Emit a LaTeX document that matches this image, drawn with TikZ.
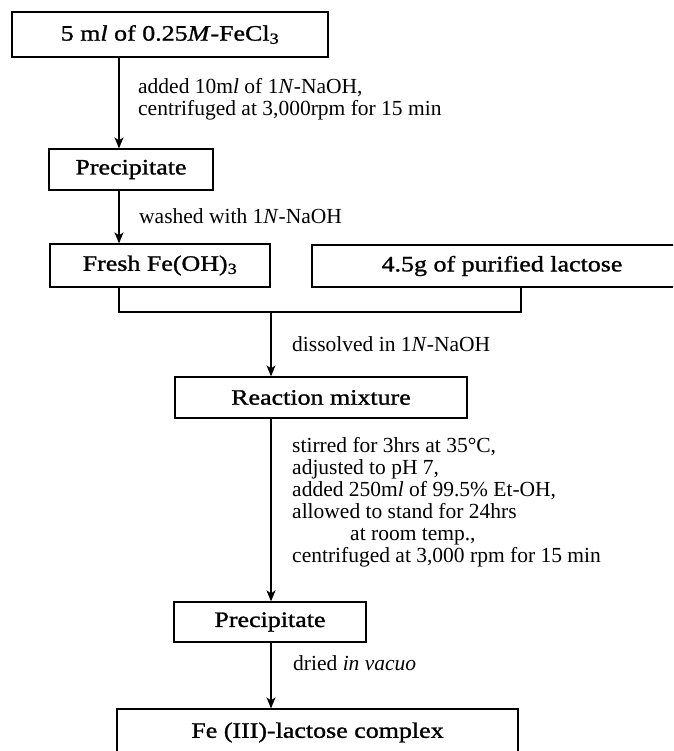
\documentclass[tikz,border=0pt]{standalone}
\usepackage{fontspec}
\setmainfont{Liberation Serif}
\newfontfamily\boxfont{Liberation Serif}[FakeStretch=1.18,FakeBold=1.2]
\usetikzlibrary{arrows.meta, positioning, calc}

\tikzset{
  stepbox/.style={draw, line width=1.3pt, inner sep=0pt,
    font=\boxfont\fontsize{22}{24}\selectfont},
  note/.style={anchor=west, align=left, inner sep=0pt,
    font=\fontsize{21.5}{22}\selectfont},
  flow/.style={line width=1.3pt, -{Stealth[length=11pt, width=9pt, inset=3pt]}},
  joinline/.style={line width=1.3pt}
}

\begin{document}
\begin{tikzpicture}[x=1pt, y=-1pt]
  \clip (0,0) rectangle (673,751);
  \coordinate (colA) at (119,0);
  \coordinate (colB) at (271,0);
  \coordinate (colC) at (521,0);
  \coordinate (mix) at (271,312);
  \node[stepbox, minimum width=316pt, minimum height=45pt] (fecl) at (170,34.5)
      {5 m\textit{l} of 0.25\textit{M}-FeCl\textsubscript{3}};
  \node[stepbox, minimum width=164pt, minimum height=41pt] (prec1) at (131,169.5)
      {Precipitate};
  \node[stepbox, minimum width=220pt, minimum height=43pt] (fresh) at (160,265.5)
      {Fresh Fe(OH)\textsubscript{3}};
  \node[stepbox, minimum width=380pt, minimum height=42pt] (lactose) at (502,266)
      {4.5g of purified lactose};
  \node[stepbox, minimum width=292pt, minimum height=41pt] (reaction) at (321,397.5)
      {Reaction mixture};
  \node[stepbox, minimum width=192pt, minimum height=40pt] (prec2) at (270,622)
      {Precipitate};
  \node[stepbox, minimum width=401pt, minimum height=47pt] (complex) at (317.5,732.5)
      {Fe (III)-lactose complex};
  \draw[flow] (fecl.south -| colA) -- (prec1.north -| colA);
  \node[note] (addbase) at (138,99.5)
      {added 10m\textit{l} of 1\textit{N}-NaOH,\\centrifuged at 3,000rpm for 15 min};
  \draw[flow] (prec1.south -| colA) -- (fresh.north -| colA);
  \node[note] (wash) at (139,216) {washed with 1\textit{N}-NaOH};
  \draw[joinline] (fresh.south -| colA) |- (mix) -| (lactose.south -| colC);
  \draw[flow] (mix) -- (reaction.north -| mix);
  \node[note] (dissolve) at (292,344) {dissolved in 1\textit{N}-NaOH};
  \draw[flow] (reaction.south -| colB) -- (prec2.north -| colB);
  \node[note] (treat) at (292,502.5)
      {stirred for 3hrs at 35°C,\\
       adjusted to pH 7,\\
       added 250m\textit{l} of 99.5\% Et-OH,\\
       allowed to stand for 24hrs\\
       \hspace{58pt}at room temp.,\\
       centrifuged at 3,000 rpm for 15 min};
  \draw[flow] (prec2.south -| colB) -- (complex.north -| colB);
  \node[note] (dry) at (293,663) {dried \textit{in vacuo}};
\end{tikzpicture}
\end{document}
